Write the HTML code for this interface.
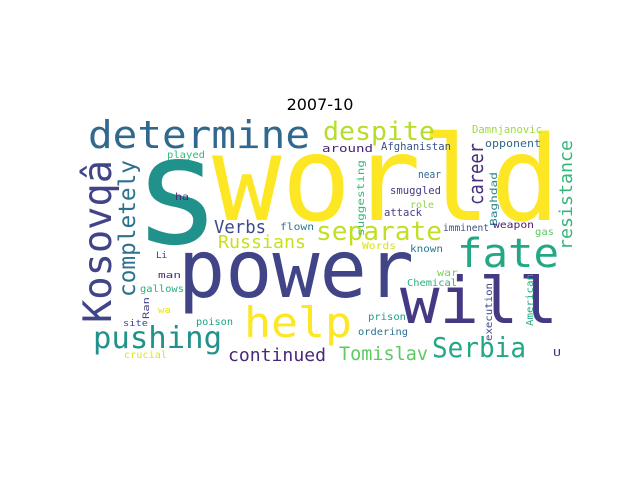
<!DOCTYPE html>
<html><head><meta charset="utf-8"><style>
html,body{margin:0;padding:0;background:#fff;}
svg{display:block;}
text{font-family:"DejaVu Sans Mono","Liberation Mono",monospace;}
</style></head><body>
<svg width="640" height="480" viewBox="0 0 640 480">
<text x="320" y="110" text-anchor="middle" font-size="16" fill="#000" style="font-family:'DejaVu Sans',sans-serif">2007-10</text>
<g id="cloud"></g>
</svg>
<script>
const words = ["world","s","power","will","determine","Kosovqâ","completely","despite","fate","help","separate","pushing","Serbia","Tomislav","continued","Russians","Verbs","career","resistance","Damnjanovic","opponent","Afghanistan","around","played","suggesting","near","smuggled","role","attack","Baghdad","imminent","weapon","gas","Words","known","ha","flown","Li","man","gallows","Ran","wa","poison","site","crucial","war","Chemical","execution","American","prison","ordering","U"];
const colors = ["#fde725","#21918c","#414487","#443983","#31688e","#414487","#2c728e","#b5de2b","#22a884","#fde725","#c2df23","#21918c","#22a884","#5ec962","#482878","#c8e020","#3e4989","#46327e","#35b779","#a0da39","#31688e","#3b528b","#482475","#38b977","#35b779","#31688e","#443983","#8fd744","#433e85","#26828e","#3b528b","#481b6d","#5ec962","#d8e219","#2a788e","#482878","#2a788e","#46327e","#472d7b","#29af7f","#414487","#e5e419","#20a386","#3e4989","#dde318","#7ad151","#2db27d","#3e4989","#25ab82","#1f9e89","#2c728e","#46337f"];
// layout: [x, y, fontSize, length, vertical]
const layout = [
[212,220,118,348,0],[133,243,150,88,0],[178,297,80,236,0],[400,323,64,158,0],
[88,148,38,222,0],[111,323,39,163,1],[135,297,23,137,1],[323,140,26,112,0],
[457,267,40,102,0],[244,337,42,108,0],[316,240,26,126,0],[93,348,30,129,0],
[432,357,28,94,0],[339,360,19,89,0],[228,361,18,98,0],[218,248,18,88,0],
[214,233,18,52,0],[483,205,20,62,1],[572,250,18,110,1],[472,133,11,70,0],
[485,147,11,56,0],[381,150,11,70,0],[322,152,11,51,0],[167,158,10,38,0],
[364,236,10,76,1],[418,178,11,23,0],[390,194,11,51,0],[410,208,10,24,0],
[384,216,11,38,0],[497,226,10,54,1],[443,231,10,46,0],[493,228,10,41,0],
[535,235,10,19,0],[362,249,10,34,0],[410,252,10,33,0],[175,200,10,14,0],
[280,230,10,34,0],[156,258,9,11,0],[158,278,9,23,0],[140,292,10,44,0],
[149,319,9,22,1],[158,313,9,13,0],[196,325,10,37,0],[123,326,9,25,0],
[124,358,10,43,0],[437,276,10,21,0],[407,286,10,50,0],[492,341,10,58,1],
[533,326,10,52,1],[368,320,10,38,0],[358,335,10,50,0],[553,356,10,8,0]
];
const g = document.getElementById('cloud');
const NS = 'http://www.w3.org/2000/svg';
words.forEach((w, i) => {
  const [x, y, fs, len, v] = layout[i];
  const t = document.createElementNS(NS, 'text');
  t.textContent = w;
  t.setAttribute('font-size', fs);
  t.setAttribute('fill', colors[i]);
  t.setAttribute('textLength', len);
  t.setAttribute('lengthAdjust', 'spacingAndGlyphs');
  if (v) {
    t.setAttribute('x', 0); t.setAttribute('y', 0);
    t.setAttribute('transform', 'translate(' + x + ',' + y + ') rotate(-90)');
  } else {
    t.setAttribute('x', x); t.setAttribute('y', y);
  }
  
  
  g.appendChild(t);
});
</script>
</body></html>
